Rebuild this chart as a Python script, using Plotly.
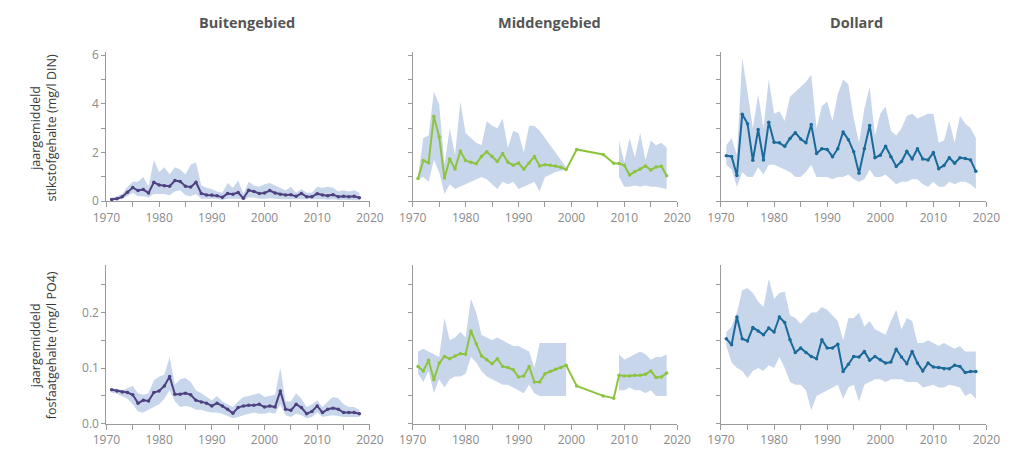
import plotly.graph_objects as go

years_full = list(range(1971, 2019))
years_mid = list(range(1971, 2000)) + [2001, 2006, 2008] + list(range(2009, 2019))

# ---- Stikstof (DIN, mg/l) ----
buiten_din = [0.07,0.10,0.18,0.37,0.56,0.44,0.48,0.34,0.78,0.67,
              0.64,0.62,0.85,0.81,0.62,0.58,0.78,0.32,0.26,0.26,
              0.23,0.16,0.32,0.29,0.36,0.12,0.45,0.40,0.32,0.34,
              0.44,0.34,0.29,0.26,0.27,0.20,0.32,0.18,0.18,0.31,
              0.26,0.23,0.27,0.18,0.20,0.18,0.20,0.14]
buiten_din_hi = [0.15,0.2,0.3,0.6,0.8,0.8,1.0,0.6,1.7,1.2,
                 1.4,1.1,1.4,1.3,1.1,1.5,1.6,0.65,0.55,0.5,
                 0.4,0.35,0.75,0.55,0.85,0.3,0.8,0.65,0.6,0.7,
                 0.75,0.65,0.55,0.45,0.6,0.35,0.5,0.35,0.35,0.6,
                 0.55,0.6,0.55,0.4,0.45,0.4,0.45,0.35]
buiten_din_lo = [0.05,0.05,0.1,0.2,0.35,0.2,0.2,0.15,0.3,0.3,
                 0.3,0.25,0.4,0.45,0.25,0.2,0.3,0.1,0.1,0.1,
                 0.1,0.05,0.1,0.1,0.1,0.05,0.15,0.15,0.1,0.1,
                 0.12,0.1,0.08,0.08,0.08,0.05,0.08,0.05,0.05,0.08,
                 0.08,0.06,0.08,0.05,0.06,0.05,0.06,0.04]

midden_din = [0.93,1.67,1.58,3.48,2.65,0.95,1.74,1.32,2.07,1.67,
              1.60,1.54,1.84,2.03,1.84,1.63,1.96,1.60,1.48,1.57,
              1.32,1.57,1.84,1.45,1.50,1.48,1.45,1.40,1.30,
              2.13,1.92,1.56,
              1.55,1.48,1.08,1.22,1.32,1.45,1.28,1.41,1.44,1.05]
midden_din_hi = [1.0,2.6,2.7,4.5,4.0,1.5,3.0,1.9,4.1,2.8,
                 2.6,2.4,2.3,3.3,3.1,3.0,3.4,2.2,2.9,2.8,
                 2.0,3.1,3.1,2.9,2.6,2.3,2.0,1.7,1.4,
                 None,None,None,
                 2.5,1.6,2.6,1.8,2.8,1.7,2.5,2.3,2.4,2.2]
midden_din_lo = [0.9,1.0,0.8,1.7,1.2,0.3,0.7,0.5,0.6,0.7,
                 0.8,0.9,1.0,0.9,0.7,0.5,0.8,0.7,0.8,0.5,
                 0.6,0.7,0.8,0.4,1.0,1.1,1.2,1.25,1.3,
                 None,None,None,
                 1.0,0.6,0.6,0.65,0.6,0.65,0.6,0.6,0.55,0.5]

dollard_din = [1.87,1.84,1.06,3.58,3.19,1.68,2.95,1.70,3.25,2.42,
               2.40,2.26,2.58,2.82,2.56,2.40,3.15,1.96,2.16,2.13,
               1.83,2.16,2.85,2.53,2.03,1.15,2.16,3.11,1.79,1.89,
               2.26,1.83,1.43,1.63,2.05,1.74,2.16,1.74,1.70,2.00,
               1.34,1.47,1.79,1.56,1.79,1.76,1.70,1.23]
dollard_din_hi = [2.3,2.6,1.9,5.9,4.5,3.0,4.4,3.0,5.0,3.6,
                  3.7,3.3,4.3,4.5,4.7,4.9,5.2,3.0,3.9,4.1,
                  3.3,4.4,5.0,4.8,3.4,2.4,3.8,4.7,2.7,3.6,
                  3.9,2.9,2.7,3.0,3.5,3.6,3.4,3.5,3.6,3.6,
                  2.4,2.5,3.3,2.4,3.5,3.2,3.0,2.6]
dollard_din_lo = [1.5,1.3,0.6,1.2,1.0,1.0,1.4,1.1,1.5,1.5,
                  1.4,1.3,1.2,1.0,1.0,1.2,1.5,1.0,1.0,1.0,
                  0.9,1.0,1.0,1.1,0.9,0.8,0.9,1.3,1.0,1.0,
                  1.1,0.9,0.7,0.8,0.8,0.9,0.9,0.7,0.6,0.8,
                  0.6,0.6,0.8,0.7,0.8,0.8,0.7,0.5]

# ---- Fosfaat (PO4, mg/l) ----
buiten_po4 = [0.061,0.059,0.057,0.056,0.052,0.037,0.042,0.041,0.056,0.059,
              0.068,0.085,0.053,0.053,0.055,0.052,0.042,0.039,0.037,0.032,
              0.037,0.032,0.026,0.019,0.029,0.032,0.033,0.033,0.035,0.030,
              0.032,0.030,0.059,0.026,0.024,0.035,0.029,0.018,0.022,0.032,
              0.020,0.026,0.028,0.026,0.020,0.020,0.020,0.018]
buiten_po4_hi = [0.064,0.063,0.060,0.064,0.068,0.055,0.052,0.055,0.078,0.085,
                 0.088,0.120,0.070,0.080,0.082,0.075,0.060,0.055,0.048,0.042,
                 0.050,0.040,0.035,0.030,0.040,0.048,0.050,0.052,0.055,0.048,
                 0.050,0.052,0.100,0.040,0.040,0.055,0.045,0.030,0.035,0.042,
                 0.030,0.040,0.048,0.046,0.035,0.030,0.030,0.025]
buiten_po4_lo = [0.056,0.054,0.050,0.045,0.035,0.022,0.020,0.025,0.030,0.035,
                 0.045,0.060,0.040,0.030,0.032,0.030,0.025,0.025,0.022,0.020,
                 0.020,0.018,0.014,0.010,0.012,0.015,0.018,0.020,0.018,0.018,
                 0.020,0.018,0.035,0.015,0.012,0.018,0.015,0.010,0.012,0.020,
                 0.012,0.014,0.015,0.014,0.012,0.012,0.012,0.012]

midden_po4 = [0.103,0.095,0.114,0.079,0.109,0.121,0.117,0.122,0.126,0.125,
              0.167,0.144,0.122,0.115,0.108,0.117,0.103,0.101,0.097,0.084,
              0.086,0.103,0.075,0.075,0.090,0.094,0.098,0.101,0.105,
              0.068,0.050,0.046,
              0.087,0.086,0.086,0.087,0.087,0.089,0.095,0.083,0.084,0.091]
midden_po4_hi = [0.13,0.135,0.13,0.125,0.12,0.19,0.15,0.155,0.165,0.155,
                 0.225,0.2,0.16,0.155,0.15,0.155,0.15,0.145,0.14,0.14,
                 0.135,0.13,0.10,0.145,0.145,0.145,0.145,0.145,0.145,
                 None,None,None,
                 0.125,0.115,0.12,0.125,0.13,0.125,0.115,0.12,0.12,0.125]
midden_po4_lo = [0.09,0.075,0.095,0.055,0.08,0.065,0.08,0.085,0.085,0.09,
                 0.12,0.11,0.095,0.085,0.08,0.075,0.07,0.07,0.065,0.06,
                 0.055,0.07,0.055,0.05,0.05,0.05,0.05,0.05,0.05,
                 None,None,None,
                 0.06,0.06,0.065,0.06,0.06,0.055,0.06,0.05,0.05,0.05]

dollard_po4 = [0.153,0.142,0.192,0.153,0.149,0.173,0.167,0.160,0.172,0.165,
               0.192,0.182,0.151,0.128,0.136,0.128,0.121,0.117,0.151,0.136,
               0.136,0.143,0.094,0.107,0.121,0.120,0.130,0.114,0.121,0.115,
               0.109,0.111,0.134,0.120,0.108,0.130,0.109,0.095,0.109,0.102,
               0.101,0.099,0.099,0.105,0.103,0.092,0.094,0.094]
dollard_po4_hi = [0.165,0.175,0.2,0.24,0.244,0.235,0.22,0.21,0.261,0.225,
                  0.235,0.238,0.195,0.19,0.18,0.19,0.2,0.2,0.21,0.205,
                  0.195,0.185,0.15,0.19,0.19,0.2,0.175,0.185,0.17,0.165,
                  0.16,0.185,0.205,0.17,0.19,0.185,0.145,0.145,0.15,0.145,
                  0.14,0.145,0.14,0.135,0.14,0.13,0.13,0.13]
dollard_po4_lo = [0.14,0.11,0.1,0.095,0.082,0.095,0.1,0.095,0.105,0.1,
                  0.12,0.1,0.075,0.07,0.07,0.06,0.024,0.05,0.055,0.06,
                  0.065,0.07,0.045,0.065,0.07,0.04,0.07,0.075,0.08,0.08,
                  0.075,0.08,0.08,0.08,0.075,0.075,0.075,0.065,0.068,0.07,
                  0.065,0.065,0.07,0.068,0.065,0.05,0.055,0.045]

titles = ["Buitengebied", "Middengebied", "Dollard"]
ytitle_top = "jaargemiddeld<br>stikstofgehalte (mg/l DIN)"
ytitle_bot = "jaargemiddeld<br>fosfaatgehalte (mg/l PO4)"

C_PURPLE = "#4e417f"
C_GREEN = "#8cc43f"
C_BLUE = "#1b6a9a"
C_BAND = "rgba(190,207,232,0.85)"
AX = "#9a9a9a"
TICKTXT = "#8a8a8a"

panels = [
    (1, years_full, buiten_din, buiten_din_lo, buiten_din_hi, C_PURPLE),
    (2, years_mid, midden_din, midden_din_lo, midden_din_hi, C_GREEN),
    (3, years_full, dollard_din, dollard_din_lo, dollard_din_hi, C_BLUE),
    (4, years_full, buiten_po4, buiten_po4_lo, buiten_po4_hi, C_PURPLE),
    (5, years_mid, midden_po4, midden_po4_lo, midden_po4_hi, C_GREEN),
    (6, years_full, dollard_po4, dollard_po4_lo, dollard_po4_hi, C_BLUE),
]

W, H = 1017, 455
fig = go.Figure()

def segments(xs, lo, hi):
    segs, cur = [], []
    for x, l, h in zip(xs, lo, hi):
        if l is None or h is None:
            if cur:
                segs.append(cur)
                cur = []
        else:
            cur.append((x, l, h))
    if cur:
        segs.append(cur)
    return segs

for idx, xs, mean, lo, hi, col in panels:
    xa = "x" if idx == 1 else f"x{idx}"
    ya = "y" if idx == 1 else f"y{idx}"
    for seg in segments(xs, lo, hi):
        px = [s[0] for s in seg] + [s[0] for s in seg][::-1]
        py = [s[2] for s in seg] + [s[1] for s in seg][::-1]
        fig.add_trace(go.Scatter(x=px, y=py, fill="toself", fillcolor=C_BAND,
                                 line=dict(width=0), mode="lines",
                                 hoverinfo="skip", showlegend=False,
                                 xaxis=xa, yaxis=ya))
    fig.add_trace(go.Scatter(x=xs, y=mean, mode="lines+markers",
                             line=dict(color=col, width=2),
                             marker=dict(color=col, size=3.5),
                             showlegend=False, xaxis=xa, yaxis=ya))

# domains in pixels
col_px = [(95, 366), (410, 682), (727, 1000)]
row_px = [(48, 202), (268, 431)]  # top, bottom (pixel y from top)
title_px = [240, 551, 866]

layout = dict(width=W, height=H, margin=dict(l=0, r=0, t=0, b=0),
              paper_bgcolor="white", plot_bgcolor="white", showlegend=False)

tickfont = dict(family="Open Sans", size=12, color=TICKTXT)
for idx in range(1, 7):
    r = 0 if idx <= 3 else 1
    c = (idx - 1) % 3
    x0, x1 = col_px[c]
    y0, y1 = row_px[r]
    xk = "xaxis" if idx == 1 else f"xaxis{idx}"
    yk = "yaxis" if idx == 1 else f"yaxis{idx}"
    ya = "y" if idx == 1 else f"y{idx}"
    xa = "x" if idx == 1 else f"x{idx}"
    layout[xk] = dict(domain=[x0 / W, x1 / W], anchor=ya, range=[1970, 2020],
                      tickvals=[1970, 1980, 1990, 2000, 2010, 2020],
                      ticks="outside", ticklen=5, tickcolor=AX, tickwidth=1,
                      showline=True, linecolor=AX, linewidth=1,
                      showgrid=False, zeroline=False, tickfont=tickfont,
                      minor=dict(tickvals=[1975, 1985, 1995, 2005, 2015],
                                 ticks="outside", ticklen=5, tickcolor=AX),
                      fixedrange=True)
    if r == 0:
        ycfg = dict(range=[0, 6.15], tickvals=[0, 2, 4, 6],
                    minor=dict(tickvals=[1, 3, 5], ticks="outside", ticklen=4, tickcolor=AX))
    else:
        ycfg = dict(range=[0, 0.285], tickvals=[0.0, 0.1, 0.2], tickformat=".1f",
                    minor=dict(tickvals=[0.05, 0.15, 0.25], ticks="outside", ticklen=4, tickcolor=AX))
    layout[yk] = dict(domain=[1 - y1 / H, 1 - y0 / H], anchor=xa,
                      ticks="outside", ticklen=4, tickcolor=AX, tickwidth=1,
                      showline=True, linecolor=AX, linewidth=1,
                      showgrid=False, zeroline=False, tickfont=tickfont,
                      showticklabels=(c == 0), fixedrange=True, **ycfg)

annotations = []
for c, t in enumerate(titles):
    annotations.append(dict(text=f"<b>{t}</b>", x=title_px[c] / W, y=1 - 18 / H,
                            xref="paper", yref="paper", showarrow=False,
                            font=dict(family="Open Sans", size=14.5, color="#555555"),
                            xanchor="center", yanchor="middle"))
for txt, yc in [(ytitle_top, 126), (ytitle_bot, 350)]:
    annotations.append(dict(text=txt, x=30 / W, y=1 - yc / H, xref="paper", yref="paper",
                            showarrow=False, textangle=-90,
                            font=dict(family="Open Sans", size=12.5, color="#3a3a3a"),
                            xanchor="center", yanchor="middle"))
layout["annotations"] = annotations

fig.update_layout(**layout)
fig.write_html("out.html")
